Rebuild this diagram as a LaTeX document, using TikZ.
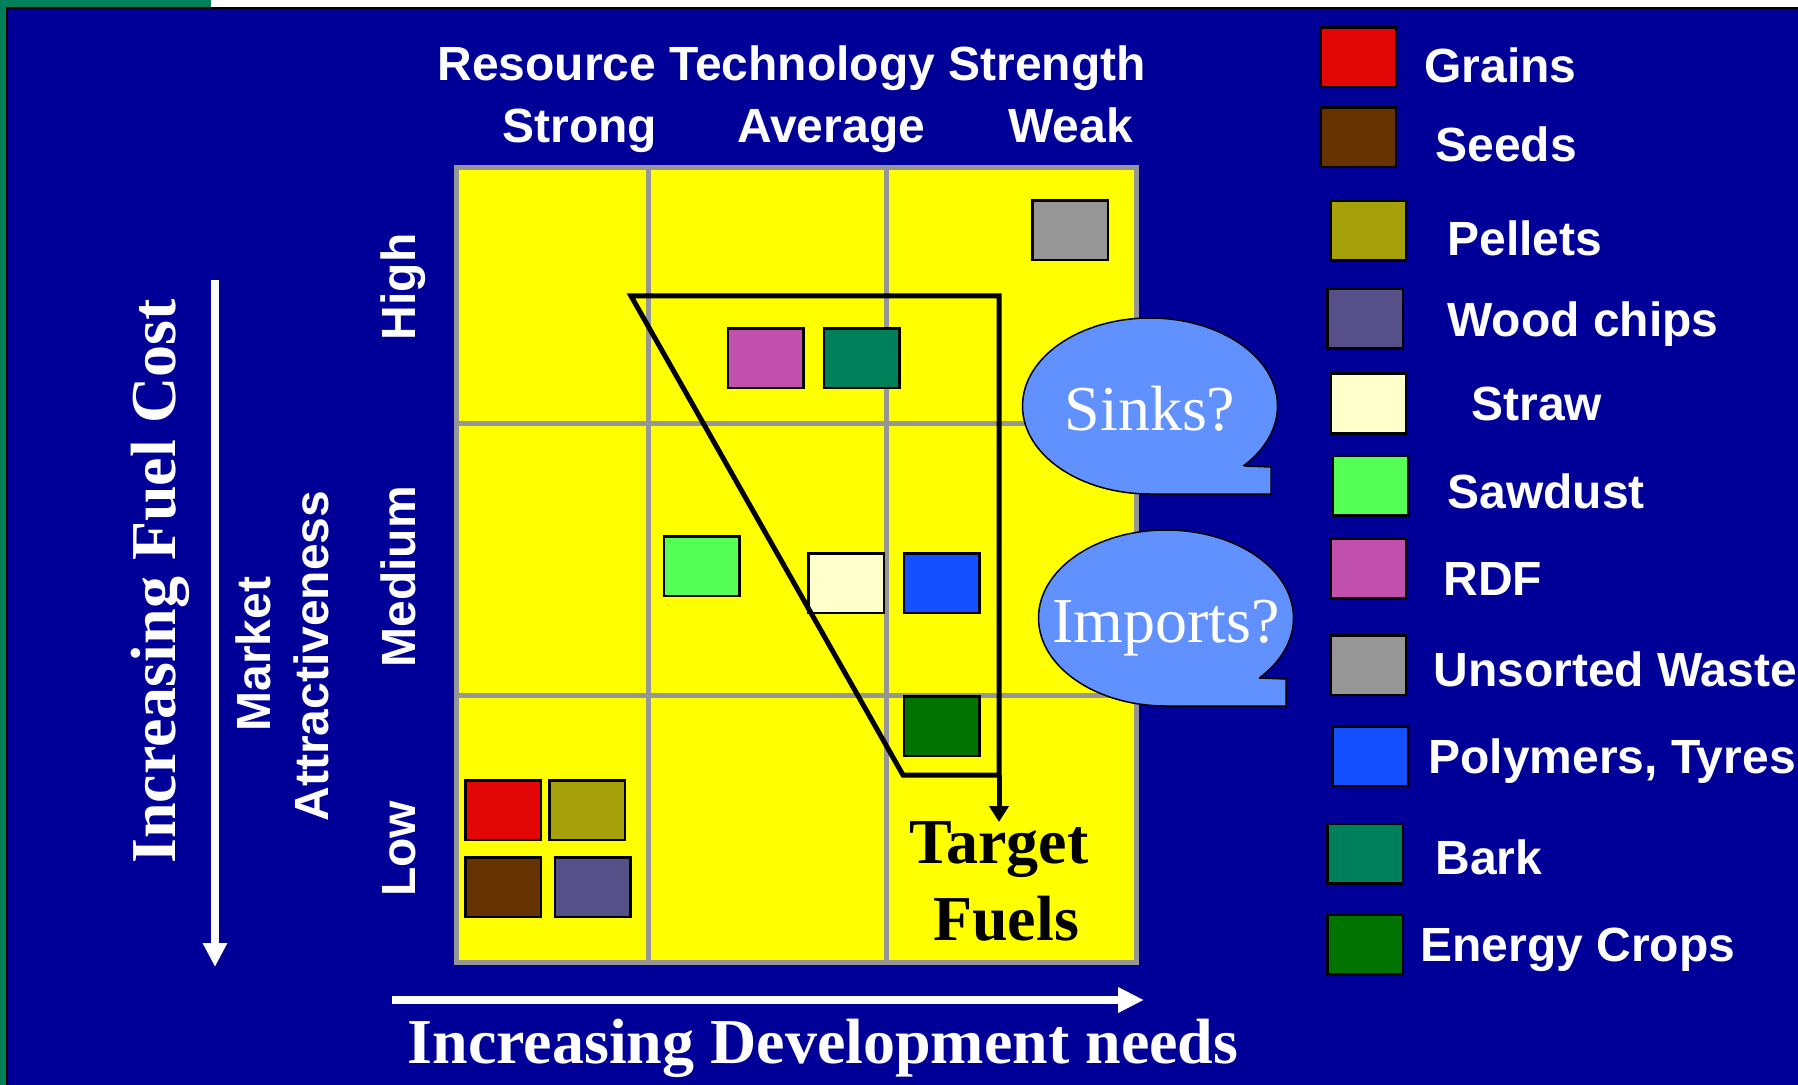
\documentclass[tikz,border=0pt]{standalone}
\usepackage{fontspec}
\setmainfont{Liberation Serif}
\newfontfamily\arialf{Liberation Sans}
\usetikzlibrary{arrows.meta}
\definecolor{bgblue}{RGB}{0,0,153}
\definecolor{stripgreen}{RGB}{0,128,90}
\definecolor{gridgray}{RGB}{150,150,150}
\definecolor{cGrains}{RGB}{227,6,6}
\definecolor{cSeeds}{RGB}{102,51,0}
\definecolor{cPellets}{RGB}{166,160,10}
\definecolor{cWood}{RGB}{85,80,135}
\definecolor{cStraw}{RGB}{255,255,204}
\definecolor{cSawdust}{RGB}{85,255,85}
\definecolor{cRDF}{RGB}{192,80,172}
\definecolor{cWaste}{RGB}{150,150,150}
\definecolor{cPoly}{RGB}{20,80,255}
\definecolor{cBark}{RGB}{0,128,90}
\definecolor{cEnergy}{RGB}{0,115,0}
\definecolor{cCallout}{RGB}{97,145,255}
\definecolor{gridyellow}{RGB}{255,255,0}
\begin{document}
\begin{tikzpicture}[x=0.5pt,y=-0.5pt,
  sq/.style={draw=black, line width=1.25pt, minimum width=37.75pt, minimum height=29.75pt, inner sep=0pt},
  lgd/.style={text=white, font=\arialf\bfseries\fontsize{24}{28}\selectfont, anchor=base west, inner sep=0pt},
  axl/.style={text=white, font=\arialf\bfseries\fontsize{24}{28}\selectfont, inner sep=0pt},
  bigser/.style={font=\bfseries\fontsize{32}{38}\selectfont, inner sep=0pt},
  callser/.style={text=white, font=\fontsize{32}{38}\selectfont, inner sep=0pt, anchor=base},
  gridline/.style={draw=gridgray, line width=2.5pt},
  callout/.style={fill=cCallout, draw=black, line width=0.75pt},
  whitearrow/.style={draw=white, line width=4pt},
  tline/.style={draw=black, line width=2.5pt, line join=miter}]
\useasboundingbox (0,0) rectangle (1798,1085);
% background
\fill[white] (0,0) rectangle (1798,1085);
\fill[stripgreen] (0,0) rectangle (211,7);
\fill[stripgreen] (0,0) rectangle (6,1085);
\filldraw[fill=bgblue, draw=black, line width=1pt] (7,8) rectangle (1800,1090);

% title
\node[lgd] (title) at (437,81) {Resource Technology Strength};
\node[lgd] (strong) at (502,143) {Strong};
\node[lgd] (average) at (737,143) {Average};
\node[lgd] (weak) at (1008,143) {Weak};

% grid
\fill[gridyellow] (456,168) rectangle (1136,962);
\draw[gridline] (648,168) -- (648,962);
\draw[gridline] (886,168) -- (886,962);
\draw[gridline] (456,423) -- (1136,423);
\draw[gridline] (456,695) -- (1136,695);
\draw[gridline] (456,168) rectangle (1136,962);

% squares in grid
\node[sq, fill=cWaste] (gwaste) at (1070,230.5) {};
\node[sq, fill=cRDF] (grdf) at (765.5,358.5) {};
\node[sq, fill=cBark] (gbark) at (861.5,358.5) {};
\node[sq, fill=cSawdust] (gsaw) at (701.5,566) {};
\node[sq, fill=cStraw] (gstraw) at (846,583) {};
\node[sq, fill=cPoly] (gpoly) at (941.5,583) {};
\node[sq, fill=cEnergy] (genergy) at (941.5,726) {};
\node[sq, fill=cGrains] (ggrains) at (503,810) {};
\node[sq, fill=cPellets] (gpellets) at (587,810) {};
\node[sq, fill=cSeeds] (gseeds) at (503,887) {};
\node[sq, fill=cWood] (gwood) at (592.5,887) {};

% target polygon
\coordinate (ptl) at (631,296);
\coordinate (ptr) at (999,296);
\coordinate (pbl) at (903,775);
\coordinate (pbr) at (999,775);
\coordinate (ptip) at (999,822);
\draw[tline] (pbr) -- (pbl) -- (ptl) -- (ptr) -- (pbr);
\draw[tline, -{Triangle[length=8pt,width=9.5pt]}] (pbr) -- (ptip);
\node[bigser, anchor=base] (target) at (999,863) {Target};
\node[bigser, anchor=base] (fuels) at (1006,940) {Fuels};

% callouts
\draw[callout] (1245,466) -- (1271,467) -- (1271,494) -- (1150,494)
  arc[start angle=90, end angle=402.5, x radius=127.5, y radius=88] -- cycle;
\node[callser] (sinks) at (1150,430) {Sinks?};
\draw[callout] (1259,678) -- (1286,679) -- (1286,706) -- (1166,706)
  arc[start angle=90, end angle=403, x radius=127.5, y radius=88] -- cycle;
\node[callser] (imports) at (1166,642) {Imports?};

% vertical axis
\coordinate (fcs) at (215,280);
\coordinate (fce) at (215,967);
\draw[whitearrow, -{Triangle[length=12pt,width=11.5pt]}] (fcs) -- (fce);
\node[bigser, text=white, rotate=90, anchor=base] (fuelcost) at (175,581.5) {Increasing Fuel Cost};
\node[axl, rotate=90, anchor=base] (market) at (270,654) {Market};
\node[axl, rotate=90, anchor=base] (attract) at (328,656) {Attractiveness};
\node[axl, rotate=90, anchor=base] (high) at (415,287) {High};
\node[axl, rotate=90, anchor=base] (medium) at (415,577) {Medium};
\node[axl, rotate=90, anchor=base] (low) at (415,849) {Low};

% horizontal axis
\coordinate (dns) at (392,1000);
\coordinate (dne) at (1144,1000);
\draw[whitearrow, -{Triangle[length=13pt,width=12pt]}] (dns) -- (dne);
\node[bigser, text=white, anchor=base] (devneeds) at (823,1063) {Increasing Development needs};

% legend
\node[sq, fill=cGrains] (lgrains) at (1358,57.5) {};
\node[sq, fill=cSeeds] (lseeds) at (1358,137.5) {};
\node[sq, fill=cPellets] (lpellets) at (1368,231) {};
\node[sq, fill=cWood] (lwood) at (1365,319) {};
\node[sq, fill=cStraw] (lstraw) at (1368,403.5) {};
\node[sq, fill=cSawdust] (lsaw) at (1370.5,485.5) {};
\node[sq, fill=cRDF] (lrdf) at (1368,568.5) {};
\node[sq, fill=cWaste] (lwaste) at (1368,665) {};
\node[sq, fill=cPoly] (lpoly) at (1370.5,756) {};
\node[sq, fill=cBark] (lbark) at (1365,853.5) {};
\node[sq, fill=cEnergy] (lenergy) at (1365,944.5) {};

\node[lgd] (tgrains) at (1424,83) {Grains};
\node[lgd] (tseeds) at (1435,162) {Seeds};
\node[lgd] (tpellets) at (1447,256) {Pellets};
\node[lgd] (twood) at (1447,337) {Wood chips};
\node[lgd] (tstraw) at (1471,421) {Straw};
\node[lgd] (tsaw) at (1447,508) {Sawdust};
\node[lgd] (trdf) at (1443,595) {RDF};
\node[lgd] (twaste) at (1433,686) {Unsorted Waste};
\node[lgd] (tpoly) at (1428,773) {Polymers, Tyres};
\node[lgd] (tbark) at (1435,874) {Bark};
\node[lgd] (tenergy) at (1420,961) {Energy Crops};
\end{tikzpicture}
\end{document}
